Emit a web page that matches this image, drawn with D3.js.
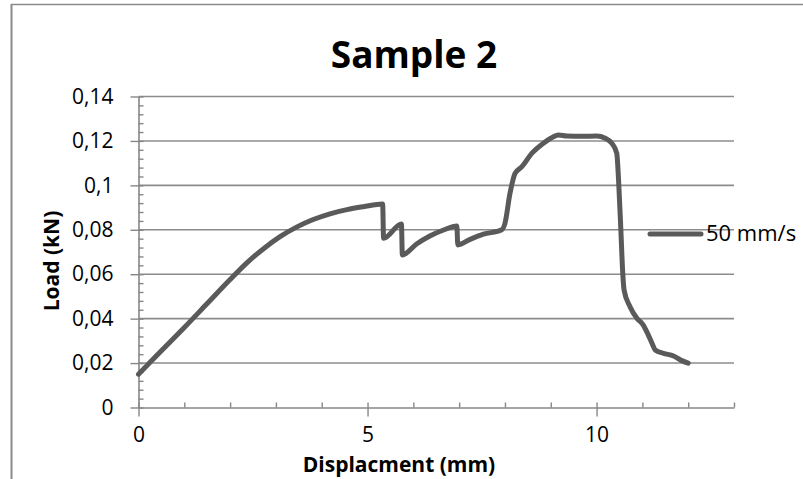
<!DOCTYPE html>
<html>
<head>
<meta charset="utf-8">
<script src="https://cdn.jsdelivr.net/npm/d3@7"></script>
<style>
  html, body { margin: 0; padding: 0; background: #ffffff; }
  svg { display: block; }
  text { font-family: "Open Sans", "Liberation Sans", sans-serif; fill: #000; }
</style>
</head>
<body>
<script>
// Load–displacement record for sample 2 (displacement in mm, load in kN)
const displacement = [
  0, 0.5, 1.0, 1.5, 2.0, 2.36, 2.73, 3.09, 3.45, 3.8, 4.18, 4.55, 4.91, 5.33,
  5.35, 5.74, 5.76, 6.07, 6.36, 6.66, 6.95, 6.97, 7.24, 7.53, 7.93,
  8.0, 8.11, 8.22, 8.37, 8.59, 8.84, 9.0, 9.17, 9.35, 9.7, 10.0, 10.19, 10.33,
  10.44, 10.48, 10.53, 10.57, 10.6, 10.73, 10.88, 11.02, 11.13, 11.21, 11.28,
  11.46, 11.68, 11.86, 12.0
];
const load = [
  0.0150, 0.0255, 0.0360, 0.0468, 0.0576, 0.0650, 0.0715, 0.0769, 0.0812, 0.0845, 0.0872, 0.0891, 0.0904, 0.0916,
  0.0762, 0.0826, 0.0687, 0.0736, 0.0772, 0.0799, 0.0817, 0.0732, 0.0757, 0.0780, 0.0800,
  0.0829, 0.0964, 0.1054, 0.1084, 0.1145, 0.1190, 0.1212, 0.1227, 0.1222, 0.1221, 0.1222, 0.1212, 0.1190,
  0.1145, 0.1024, 0.0800, 0.0610, 0.0529, 0.0454, 0.0402, 0.0371, 0.0326, 0.0289, 0.0259,
  0.0244, 0.0232, 0.0211, 0.0200
];

const seriesName = "50 mm/s";
const chartTitle = "Sample 2";
const xTitle = "Displacment (mm)";
const yTitle = "Load (kN)";

const xMajorTicks = [0, 5, 10];
const xTickLabels = ["0", "5", "10"];
const xMinorTicks = d3.range(0, 14, 1);

const yTicks = [0, 0.02, 0.04, 0.06, 0.08, 0.1, 0.12, 0.14];
const yTickLabels = ["0", "0,02", "0,04", "0,06", "0,08", "0,1", "0,12", "0,14"];
const yMinorTicks = d3.range(0, 0.1401, 0.004);

const W = 803, H = 479;
const axisColor = "#878787";
const lineColor = "#5a5a5a";

const svg = d3.select("body").append("svg")
  .attr("width", W).attr("height", H);

// chart frame (left and top edges)
svg.append("line").attr("x1", 11.5).attr("x2", 11.5).attr("y1", 4).attr("y2", H)
  .attr("stroke", "#8a8a8a").attr("stroke-width", 2);
svg.append("line").attr("x1", 11).attr("x2", W).attr("y1", 4.5).attr("y2", 4.5)
  .attr("stroke", "#8a8a8a").attr("stroke-width", 1.3);

const x = d3.scaleLinear().domain([0, 13]).range([138.5, 734]);
const y = d3.scaleLinear().domain([0, 0.14]).range([407.5, 96.5]);

// horizontal gridlines
svg.append("g").selectAll("line")
  .data(yTicks.filter(d => d > 0))
  .join("line")
  .attr("x1", x(0)).attr("x2", x(13))
  .attr("y1", d => y(d)).attr("y2", d => y(d))
  .attr("stroke", "#8c8c8c").attr("stroke-width", 1.6);

function styleAxis(g) {
  g.select(".domain").attr("stroke", axisColor).attr("stroke-width", 1.6);
  g.selectAll(".tick line").attr("stroke", axisColor).attr("stroke-width", 1.4);
  g.selectAll(".tick text")
    .attr("fill", "#000")
    .style("font-family", "'Open Sans', 'Liberation Sans', sans-serif")
    .style("font-size", "21px");
}

// y axis: major ticks outside with labels, minor ticks inside
svg.append("g")
  .attr("transform", `translate(${x(0)},0)`)
  .call(d3.axisLeft(y).tickValues(yTicks).tickSizeInner(8).tickSizeOuter(0)
    .tickPadding(17).tickFormat((d, i) => yTickLabels[i]))
  .call(styleAxis);
svg.append("g")
  .attr("transform", `translate(${x(0)},0)`)
  .call(d3.axisRight(y).tickValues(yMinorTicks).tickSize(5).tickFormat(""))
  .call(g => g.select(".domain").remove())
  .call(styleAxis);

// x axis: ticks inside at every unit, major ticks also cross downward
svg.append("g")
  .attr("transform", `translate(0,${y(0)})`)
  .call(d3.axisTop(x).tickValues(xMinorTicks).tickSize(5).tickSizeOuter(0).tickFormat(""))
  .call(styleAxis);
svg.append("g")
  .attr("transform", `translate(0,${y(0)})`)
  .call(d3.axisBottom(x).tickValues(xMajorTicks).tickSize(9).tickSizeOuter(0)
    .tickPadding(11).tickFormat((d, i) => xTickLabels[i]))
  .call(g => g.select(".domain").remove())
  .call(styleAxis);

// data line
const pts = displacement.map((d, i) => [d, load[i]]);
const line = d3.line().x(d => x(d[0])).y(d => y(d[1])).curve(d3.curveMonotoneX);
svg.append("path")
  .datum(pts)
  .attr("d", line)
  .attr("fill", "none")
  .attr("stroke", lineColor)
  .attr("stroke-width", 5)
  .attr("stroke-linejoin", "round")
  .attr("stroke-linecap", "round");

// title
svg.append("text")
  .attr("x", 414).attr("y", 68)
  .attr("text-anchor", "middle")
  .style("font-size", "37px").style("font-weight", "bold")
  .text(chartTitle);

// axis titles
svg.append("text")
  .attr("x", 399).attr("y", 472)
  .attr("text-anchor", "middle")
  .style("font-size", "21px").style("font-weight", "bold")
  .text(xTitle);
svg.append("text")
  .attr("transform", "translate(59,261) rotate(-90)")
  .attr("text-anchor", "middle")
  .style("font-size", "21px").style("font-weight", "bold")
  .text(yTitle);

// legend
const legend = svg.append("g");
legend.append("line")
  .attr("x1", 650).attr("x2", 701).attr("y1", 234).attr("y2", 234)
  .attr("stroke", lineColor).attr("stroke-width", 5).attr("stroke-linecap", "round");
legend.append("text")
  .attr("x", 706).attr("y", 241)
  .style("font-size", "22px")
  .text(seriesName);
</script>
</body>
</html>
